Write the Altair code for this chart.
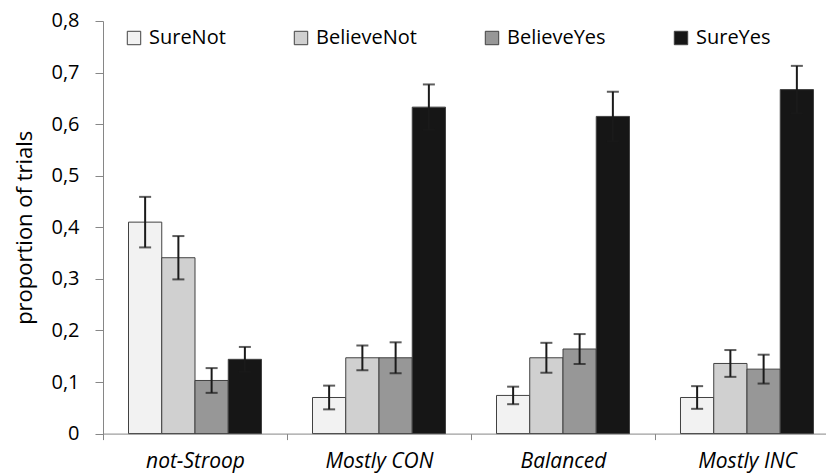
import altair as alt
import pandas as pd

# Experimental blocks (x categories) and confidence responses (bar series)
conditions = ["not-Stroop", "Mostly CON", "Balanced", "Mostly INC"]
responses = ["SureNot", "BelieveNot", "BelieveYes", "SureYes"]
fills = ["#f2f2f2", "#d0d0d0", "#979797", "#161616"]

# Mean proportion of trials per response, one value per condition
sure_not = [0.410, 0.070, 0.074, 0.070]
believe_not = [0.341, 0.147, 0.147, 0.136]
believe_yes = [0.103, 0.147, 0.164, 0.125]
sure_yes = [0.144, 0.633, 0.615, 0.667]

# Half-length of the error bars
sure_not_err = [0.049, 0.023, 0.017, 0.022]
believe_not_err = [0.042, 0.024, 0.029, 0.026]
believe_yes_err = [0.024, 0.030, 0.029, 0.028]
sure_yes_err = [0.024, 0.044, 0.048, 0.046]

series = {
    "SureNot": (sure_not, sure_not_err),
    "BelieveNot": (believe_not, believe_not_err),
    "BelieveYes": (believe_yes, believe_yes_err),
    "SureYes": (sure_yes, sure_yes_err),
}

rows = []
for resp in responses:
    vals, errs = series[resp]
    for cond, v, e in zip(conditions, vals, errs):
        rows.append({"condition": cond, "response": resp, "value": v,
                     "lo": v - e, "hi": v + e})
df = pd.DataFrame(rows)

FONT = "Open Sans"

# The last category runs a little past the right edge of the view
x_enc = alt.X(
    "condition:N",
    sort=conditions,
    scale=alt.Scale(paddingInner=0, paddingOuter=0, range=[0, 736]),
    axis=alt.Axis(
        title=None,
        labelFont=FONT,
        labelFontSize=21,
        labelFontStyle="italic",
        labelColor="#000000",
        labelAngle=0,
        labelPadding=11,
        tickBand="extent",
        tickSize=6,
        tickColor="#868686",
        domainColor="#868686",
        domainWidth=1,
    ),
)
xoff_enc = alt.XOffset(
    "response:N", sort=responses,
    scale=alt.Scale(paddingInner=0, paddingOuter=0.767),
)
y_scale = alt.Scale(domain=[0, 0.8], nice=False)

bars = alt.Chart(df).mark_bar(stroke="#404040", strokeWidth=1).encode(
    x=x_enc,
    xOffset=xoff_enc,
    y=alt.Y(
        "value:Q",
        scale=y_scale,
        axis=alt.Axis(
            title="proportion of trials",
            titleFont=FONT,
            titleFontSize=22,
            titleFontWeight="normal",
            titleColor="#000000",
            titlePadding=14,
            values=[0, 0.1, 0.2, 0.3, 0.4, 0.5, 0.6, 0.7, 0.8],
            labelExpr="datum.value == 0 ? '0' : replace(format(datum.value, '.1f'), '.', ',')",
            labelFont=FONT,
            labelFontSize=20,
            labelColor="#000000",
            labelPadding=16,
            tickSize=8,
            tickColor="#868686",
            domainColor="#868686",
            grid=False,
        ),
    ),
    color=alt.Color(
        "response:N",
        sort=responses,
        scale=alt.Scale(domain=responses, range=fills),
        legend=alt.Legend(
            title=None,
            orient="none",
            legendX=21,
            legendY=7,
            direction="horizontal",
            columns=4,
            columnPadding=65,
            symbolType="square",
            symbolSize=180,
            symbolStrokeColor="#404040",
            symbolStrokeWidth=1,
            labelFont=FONT,
            labelFontSize=20,
            labelColor="#000000",
            labelOffset=5,
            padding=0,
        ),
    ),
)

whisker = alt.Chart(df).mark_rule(color="#1a1a1a", strokeWidth=2).encode(
    x=alt.X("condition:N", sort=conditions),
    xOffset=alt.XOffset("response:N", sort=responses),
    y=alt.Y("lo:Q", scale=y_scale),
    y2="hi:Q",
)

cap_hi = alt.Chart(df).mark_tick(color="#1a1a1a", thickness=2, size=12, orient="horizontal").encode(
    x=alt.X("condition:N", sort=conditions),
    xOffset=alt.XOffset("response:N", sort=responses),
    y=alt.Y("hi:Q", scale=y_scale),
)
cap_lo = alt.Chart(df).mark_tick(color="#1a1a1a", thickness=2, size=12, orient="horizontal").encode(
    x=alt.X("condition:N", sort=conditions),
    xOffset=alt.XOffset("response:N", sort=responses),
    y=alt.Y("lo:Q", scale=y_scale),
)

chart = (
    alt.layer(bars, whisker, cap_hi, cap_lo)
    .properties(
        width=723,
        height=412.6,
        autosize=alt.AutoSizeParams(type="none"),
        padding={"left": 103, "top": 21, "right": 0, "bottom": 39},
        background="#ffffff",
    )
    .configure_view(stroke=None)
)

chart.save("out.html", embed_options={"renderer": "svg", "actions": False})
